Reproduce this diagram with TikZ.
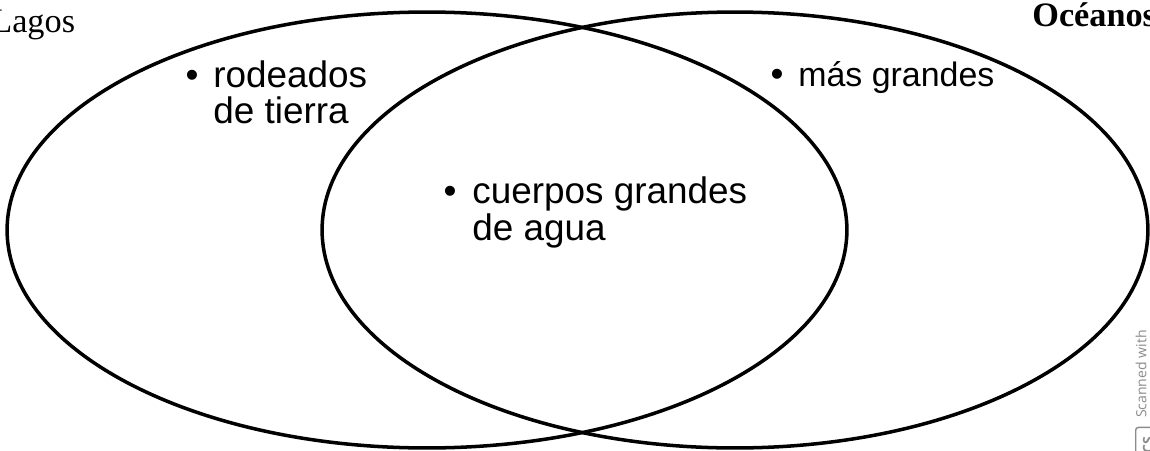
\documentclass[tikz,border=0pt]{standalone}
\usepackage{fontspec}
\setmainfont{Liberation Serif}
\newfontfamily\itemfont{Liberation Sans}
\newfontfamily\scanfont{Open Sans}
\usepackage{tikz}
\usetikzlibrary{calc}
\tikzstyle{set}=[draw,line width=2pt]
\tikzstyle{title}=[inner sep=0pt,anchor=base west,font=\fontsize{19.5}{22}\selectfont]
\tikzstyle{item}=[inner sep=0pt,anchor=base west,font=\itemfont\fontsize{21}{25}\selectfont]
\tikzstyle{bullet}=[inner sep=0pt,anchor=base,font=\itemfont\fontsize{21}{25}\selectfont]
\tikzstyle{scan}=[inner sep=0pt,black!45,font=\scanfont\fontsize{8}{9}\selectfont]
\begin{document}
\begin{tikzpicture}[x=0.02cm,y=-0.02cm]

    \useasboundingbox (0,0) rectangle (1150,450);

    % the two sets
    \draw[set] (427,230) ellipse [x radius=8.4cm, y radius=4.36cm];
    \draw[set] (735,230) ellipse [x radius=8.26cm, y radius=4.36cm];

    \node[title] (lagos) at (-9,32) {Lagos};
    \node[title, font=\bfseries\fontsize{19.5}{22}\selectfont] (oceanos) at (1032,26) {Océanos};

    \foreach \x/\y/\name/\txt in {213/87/rodA/rodeados, 213/123/rodB/de tierra,
                                  472/203/cueA/cuerpos grandes, 472/240/cueB/de agua}
        \node[item] (\name) at (\x,\y) {\txt};
    \node[item, font=\itemfont\fontsize{19.3}{23}\selectfont] (masA) at (798,86) {más grandes};

    \foreach \x/\y/\name in {192/87/dotA, 777/86/dotB, 450/203/dotC}
        \node[bullet] (\name) at (\x,\y) {•};

    % scanner mark
    \node[scan, rotate=90] (scan) at (1141,374) {Scanned with};
    \node[scan, draw, rounded corners=1.5pt, rotate=90, minimum width=20pt,
          minimum height=14pt, line width=0.8pt] (logo) at (1148,445) {\bfseries CS};

\end{tikzpicture}
\end{document}
